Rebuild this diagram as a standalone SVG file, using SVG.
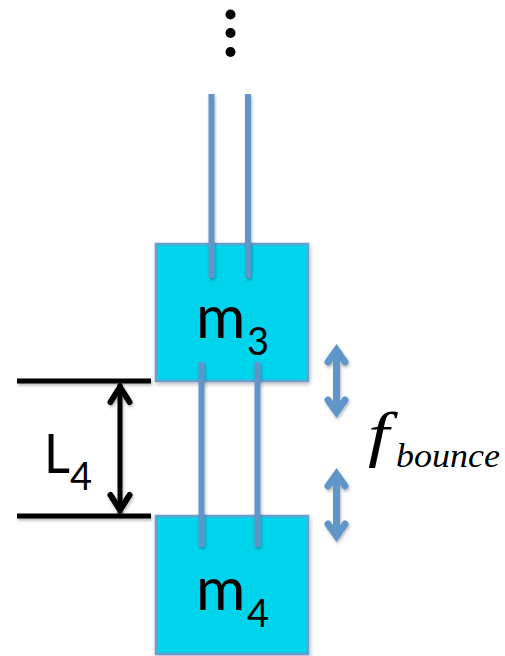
<svg xmlns="http://www.w3.org/2000/svg" width="505" height="656" viewBox="0 0 505 656">
<defs>
<filter id="soft" x="-30%" y="-30%" width="160%" height="160%" filterUnits="objectBoundingBox"><feDropShadow dx="1" dy="2" stdDeviation="2" flood-color="#000" flood-opacity="0.28"/></filter>
<filter id="softLine" filterUnits="userSpaceOnUse" x="0" y="0" width="505" height="656"><feDropShadow dx="1" dy="2" stdDeviation="1.6" flood-color="#000" flood-opacity="0.28"/></filter>
</defs>
<style>
.mass{fill:#00d4ec;stroke:#6b9ccd;stroke-width:2.5}
.wire{stroke:#6195c9;stroke-width:6;fill:none}
.blk{stroke:#000;stroke-width:5;fill:none}
.blkhead{stroke:#000;stroke-width:6;fill:none;stroke-linecap:round;stroke-linejoin:miter}
.blue{stroke:#6195c9;stroke-width:7;fill:none}
.bluehead{stroke:#6195c9;stroke-width:7;fill:none;stroke-linecap:round;stroke-linejoin:miter}
.lbl{font-family:"Lato","Open Sans",sans-serif;fill:#000}
.f{font-family:"Liberation Serif","Times New Roman",serif;font-style:italic;fill:#000}
</style>
<g id="node-m3">
<rect class="mass" x="156" y="244" width="152" height="137" filter="url(#soft)"/>
<text class="lbl" x="196" y="338" font-size="60">m</text>
<text class="lbl" x="247" y="355" font-size="38">3</text>
</g>
<g id="node-m4">
<rect class="mass" x="156" y="516" width="152" height="138" filter="url(#soft)"/>
<text class="lbl" x="196" y="610" font-size="60">m</text>
<text class="lbl" x="247" y="627" font-size="38">4</text>
</g>
<g id="connectors">
<g filter="url(#softLine)">
<line class="wire" x1="211.5" y1="94" x2="211.5" y2="278"/>
<line class="wire" x1="248" y1="94" x2="248" y2="278"/>
<line class="wire" x1="201.5" y1="362" x2="201.5" y2="547"/>
<line class="wire" x1="257.5" y1="362" x2="257.5" y2="547"/>
</g>
<g filter="url(#softLine)">
<line class="blk" x1="17" y1="381" x2="151" y2="381"/>
<line class="blk" x1="17" y1="516" x2="151" y2="516"/>
<line class="blk" x1="120" y1="384" x2="120" y2="513"/>
<path class="blkhead" d="M110.500 402L120 387L129.500 402"/>
<path class="blkhead" d="M110.500 495L120 510L129.500 495"/>
</g>
<g filter="url(#softLine)">
<line class="blue" x1="336.500" y1="352" x2="336.500" y2="410"/>
<path class="bluehead" d="M328 362L336.500 350L345 362"/>
<path class="bluehead" d="M328 400L336.500 412L345 400"/>
<line class="blue" x1="336.500" y1="476" x2="336.500" y2="534"/>
<path class="bluehead" d="M328 486L336.500 474L345 486"/>
<path class="bluehead" d="M328 524L336.500 536L345 524"/>
</g>
</g>
<g id="node-dots">
<circle cx="230.500" cy="14.500" r="5"/>
<circle cx="230.500" cy="33" r="5"/>
<circle cx="230.500" cy="52" r="5"/>
</g>
<g id="node-L4">
<text class="lbl" x="44" y="473" font-size="54" textLength="26" lengthAdjust="spacingAndGlyphs">L</text>
<text class="lbl" x="70" y="490" font-size="38">4</text>
</g>
<g id="node-fbounce">
<text class="f" font-size="61" transform="translate(368 455) scale(1.25 1)">f</text>
<text class="f" x="396" y="467" font-size="33" textLength="104" lengthAdjust="spacingAndGlyphs">bounce</text>
</g>
</svg>
